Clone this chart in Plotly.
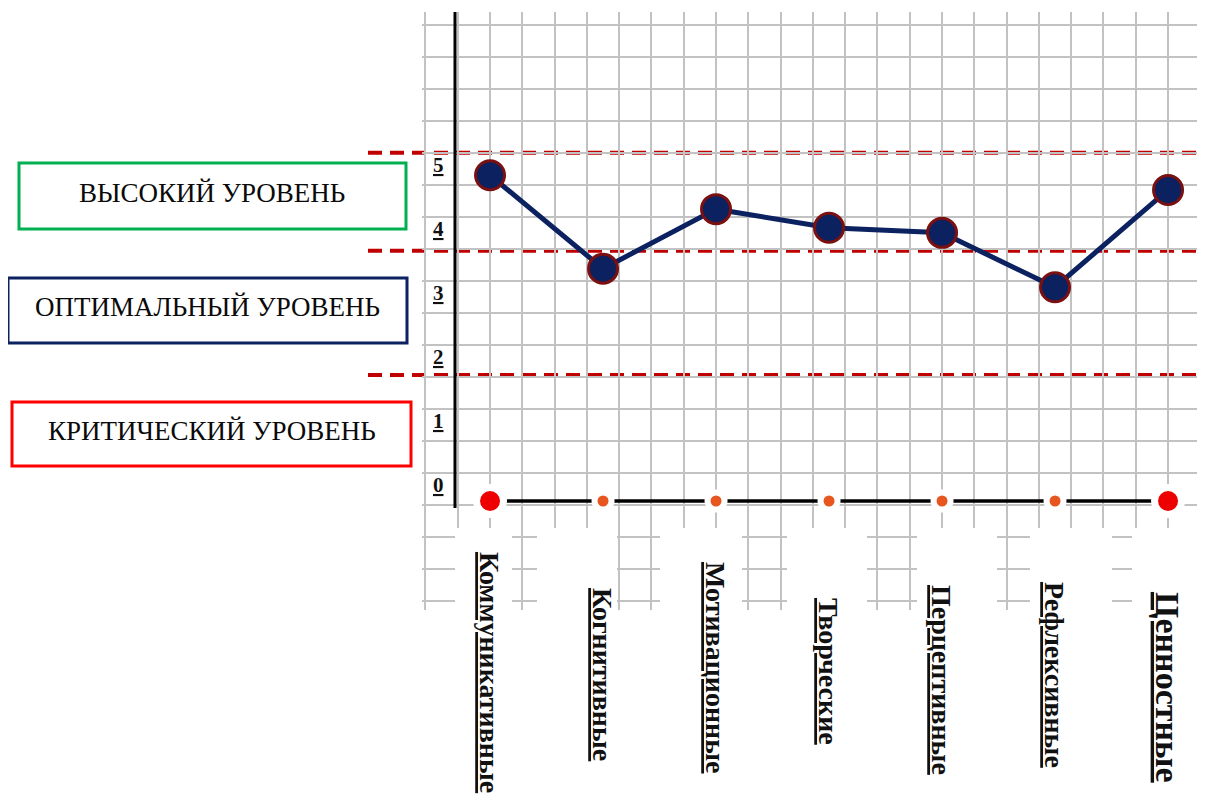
import plotly.graph_objects as go

# ---------------- data ----------------
categories = ["Коммуникативные", "Когнитивные", "Мотивационные", "Творческие",
              "Перцептивные", "Рефлексивные", "Ценностные"]
scores = [5.09, 3.63, 4.56, 4.27, 4.19, 3.34, 4.86]
baseline = [0, 0, 0, 0, 0, 0, 0]
thresholds = [5.44, 3.91, 1.97]
y_tick_values = [0, 1, 2, 3, 4, 5]
level_labels = ["ВЫСОКИЙ УРОВЕНЬ", "ОПТИМАЛЬНЫЙ УРОВЕНЬ", "КРИТИЧЕСКИЙ УРОВЕНЬ"]

# ---------------- styles ----------------
label_font_sizes = [28, 28, 28, 28, 28, 28, 34]
label_centers_px = [672, 674, 668, 671, 680, 675, 687]

# ---------------- layout geometry (screen pixels) ----------------
OFF = 8                      # page body margin
W, H = 1205 - OFF, 802 - OFF
SCR_L, SCR_T, SCR_BOTTOM = 422, 12, 610
L, T = SCR_L - OFF, SCR_T - OFF
B = H - (SCR_BOTTOM - OFF)
PW, PH = W - L, SCR_BOTTOM - SCR_T


def px_x(px):
    return (px - SCR_L) / PW


def px_y(py):
    return (SCR_BOTTOM - py) / PH


x_idx = list(range(len(categories)))
SERIF = "Liberation Serif, Times New Roman, serif"

fig = go.Figure()

# base axis line with small markers
n = len(categories)
base_colors = ["#ee0000"] + ["#e8561f"] * (n - 2) + ["#ee0000"]
base_sizes = [27] + [17] * (n - 2) + [27]
base_lw = [7] + [6] * (n - 2) + [7]
fig.add_trace(go.Scatter(
    x=x_idx, y=baseline, mode="lines+markers",
    line=dict(color="black", width=3.5),
    marker=dict(color=base_colors, size=base_sizes, opacity=1,
                line=dict(color="white", width=base_lw)),
    hoverinfo="skip", showlegend=False))

# main series
fig.add_trace(go.Scatter(
    x=x_idx, y=scores, mode="lines+markers",
    line=dict(color="#0b2160", width=5),
    marker=dict(color="#0b2160", size=29, opacity=1,
                line=dict(color="#7a1010", width=3)),
    showlegend=False))

shapes = []
# white cut-outs below the axis (grid only in patches)
cut_ranges = [(455, 512), (537, 617), (660, 742), (787, 867),
              (917, 997), (1030, 1112), (1132, 1205)]
for a, b in cut_ranges:
    shapes.append(dict(type="rect", xref="paper", yref="paper",
                       x0=px_x(a), x1=px_x(b), y0=-0.01, y1=px_y(528),
                       fillcolor="white", line=dict(width=0), layer="above"))
shapes.append(dict(type="rect", xref="paper", yref="paper",
                   x0=px_x(420), x1=px_x(1206), y0=-0.01, y1=px_y(613),
                   fillcolor="white", line=dict(width=0), layer="above"))

# threshold dashed lines
for t in thresholds:
    shapes.append(dict(type="line", xref="paper", yref="y",
                       x0=px_x(368), x1=1, y0=t, y1=t,
                       line=dict(color="#c00000", width=4, dash="14px,8px"),
                       layer="between"))

# vertical axis line
shapes.append(dict(type="line", xref="paper", yref="paper",
                   x0=px_x(455), x1=px_x(455), y0=px_y(508), y1=1,
                   line=dict(color="black", width=3), layer="above"))

# level boxes
boxes = [((19, 406, 163, 229), "#00b050"),
         ((8, 407, 278, 343), "#0b2160"),
         ((12, 411, 402, 466), "#ff0000")]
annotations = []
for (x0, x1, y0, y1), col in boxes:
    shapes.append(dict(type="rect", xref="paper", yref="paper",
                       x0=px_x(x0), x1=px_x(x1), y0=px_y(y1), y1=px_y(y0),
                       line=dict(color=col, width=3), fillcolor="white"))
for ((x0, x1, y0, y1), col), txt in zip(boxes, level_labels):
    annotations.append(dict(text=txt, xref="paper", yref="paper",
                            x=px_x((x0 + x1) / 2), y=px_y((y0 + y1) / 2 - 3),
                            showarrow=False, xanchor="center", yanchor="middle",
                            font=dict(family=SERIF, size=27, color="#0a0a0a")))

# y tick labels (bold, underlined, sitting above their level)
for v in y_tick_values:
    annotations.append(dict(text=f"<b><u>{v}</u></b>", xref="paper", yref="y",
                            x=px_x(438), y=v, yshift=16, showarrow=False,
                            xanchor="center", yanchor="middle",
                            font=dict(family=SERIF, size=21, color="#111")))

# category labels, rotated
for i, c in enumerate(categories):
    annotations.append(dict(text=f"<b><u>{c}</u></b>", xref="x", yref="paper",
                            x=i, y=px_y(label_centers_px[i]), textangle=90,
                            showarrow=False, xanchor="center", yanchor="middle",
                            font=dict(family=SERIF, size=label_font_sizes[i],
                                      color="#111")))

y_lo = (501 - SCR_BOTTOM) / 64
y_hi = (501 - SCR_T) / 64

fig.update_layout(
    width=W, height=H,
    margin=dict(l=L, r=0, t=T, b=B, pad=0),
    paper_bgcolor="white", plot_bgcolor="white",
    xaxis=dict(range=[-0.602, 6.327], showticklabels=False, ticks="",
               showgrid=True, gridcolor="#c2c2c2", gridwidth=2.4,
               tick0=0, dtick=1 / 3.5, zeroline=False, showline=False,
               fixedrange=True),
    yaxis=dict(range=[y_lo, y_hi], showticklabels=False, ticks="",
               showgrid=True, gridcolor="#c2c2c2", gridwidth=2.4,
               tick0=0.44, dtick=0.5, zeroline=False, showline=False,
               fixedrange=True),
    shapes=shapes, annotations=annotations, showlegend=False,
)

fig.write_html("out.html")
